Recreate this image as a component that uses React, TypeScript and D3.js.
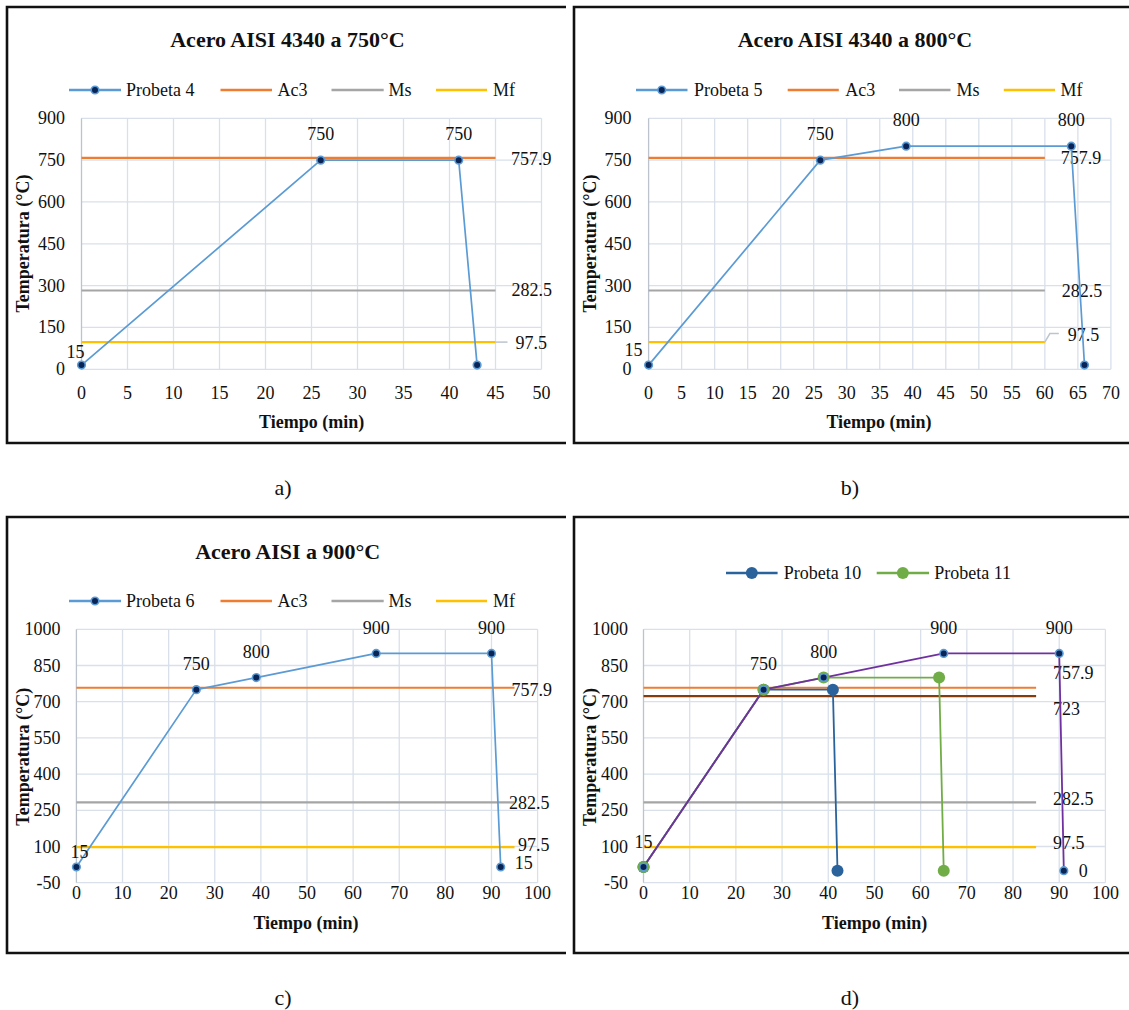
import React from "react";
import * as d3 from "d3";

const FONT = '"Liberation Serif", "Times New Roman", Times, serif';

// ---------- data ----------
const tiempoP4 = [0, 26, 41, 43];
const tempP4 = [15, 750, 750, 15];
const tiempoP5 = [0, 26, 39, 64, 66];
const tempP5 = [15, 750, 800, 800, 15];
const tiempoP6 = [0, 26, 39, 65, 90, 92];
const tempP6 = [15, 750, 800, 900, 900, 15];
const tiempoP10 = [0, 26, 41, 42];
const tempP10 = [15, 750, 750, 0];
const tiempoP11 = [0, 26, 39, 64, 65];
const tempP11 = [15, 750, 800, 800, 0];
const tiempoP12 = [0, 26, 39, 65, 90, 91];
const tempP12 = [15, 750, 800, 900, 900, 0];

const AC3 = 757.9;
const MS = 282.5;
const MF = 97.5;
const A1 = 723;

const refXA = [0, 45];
const refXB = [0, 60];
const refXC = [0, 95];
const refXD = [0, 85];

const xTicksA = [0, 5, 10, 15, 20, 25, 30, 35, 40, 45, 50];
const xTicksB = [0, 5, 10, 15, 20, 25, 30, 35, 40, 45, 50, 55, 60, 65, 70];
const xTicksCD = [0, 10, 20, 30, 40, 50, 60, 70, 80, 90, 100];
const yTicksAB = [0, 150, 300, 450, 600, 750, 900];
const yTicksCD = [-50, 100, 250, 400, 550, 700, 850, 1000];

const titles = ["Acero AISI 4340 a 750°C", "Acero AISI 4340 a 800°C", "Acero AISI a 900°C"];
const legendA = ["Probeta 4", "Ac3", "Ms", "Mf"];
const legendB = ["Probeta 5", "Ac3", "Ms", "Mf"];
const legendC = ["Probeta 6", "Ac3", "Ms", "Mf"];
const legendD = ["Probeta 10", "Probeta 11"];
const captions = ["a)", "b)", "c)", "d)"];

// ---------- styles ----------
const C = {
  blue: "#5B9BD5",
  navy: "#0A2456",
  orange: "#ED7D31",
  gray: "#A5A5A5",
  yellow: "#FFC000",
  brown: "#843C0C",
  purple: "#7030A0",
  green: "#70AD47",
  dblue: "#2A639C",
  grid: "#D9E0EA",
  axis: "#BCC3CD",
};

type Lbl = { i: number; dx: number; dy: number; anchor?: "start" | "middle" | "end" };
type SeriesCfg = {
  x: number[]; y: number[]; color: string; width: number;
  r: number; fill: string; stroke: string; sw: number; labels: Lbl[];
};
type RefCfg = {
  value: number; xr: number[]; color: string; dx: number; dy: number;
  leader?: [number, number][];
};
type LegItem = { name: string; color: string; x0: number; x1: number; tx: number; r: number; fill: string; stroke: string; sw: number };
type PanelCfg = {
  box: { x0: number; x1: number; y0: number; y1: number; rightBorder: boolean };
  plot: { x0: number; x1: number; y0: number; y1: number };
  xDomain: [number, number]; yDomain: [number, number];
  xTicks: number[]; yTicks: number[];
  xTickDy: number; yTickGap: number;
  title?: { text: string; x: number; y: number };
  legend: { y: number; items: LegItem[] };
  xTitle: { x: number; y: number };
  yTitle: { x: number; y: number };
  refs: RefCfg[];
  series: SeriesCfg[];
  caption: { text: string; x: number; y: number };
};

const smallMarker = { r: 3.8, fill: C.navy, stroke: C.blue, sw: 1.6 };

function legendItems(names: string[], pos: number[][], colors: string[], markers: any[]): LegItem[] {
  return names.map((n, k) => ({
    name: n, color: colors[k], x0: pos[k][0], x1: pos[k][1], tx: pos[k][2],
    ...(markers[k] || { r: 0, fill: "none", stroke: "none", sw: 0 }),
  }));
}

const posAC = [[69, 121, 126], [220.5, 272, 277.5], [331.5, 383.7, 388.4], [436, 487, 493]];
const posB = [[636, 687.5, 694], [787.7, 838.8, 845.3], [899, 950.5, 956.6], [1003.8, 1055, 1060.4]];
const posD = [[726, 777.6, 783.7], [876.7, 929, 934.3]];

const panels: PanelCfg[] = [
  {
    box: { x0: 7, x1: 566, y0: 7, y1: 443, rightBorder: false },
    plot: { x0: 81.5, x1: 541.5, y0: 118.3, y1: 369.3 },
    xDomain: [0, 50], yDomain: [0, 900],
    xTicks: xTicksA, yTicks: yTicksAB, xTickDy: 23.4, yTickGap: 16.5,
    title: { text: titles[0], x: 287.5, y: 39.5 },
    legend: { y: 90, items: legendItems(legendA, posAC, [C.blue, C.orange, C.gray, C.yellow], [smallMarker]) },
    xTitle: { x: 311.6, y: 421.7 },
    yTitle: { x: 23.4, y: 243.5 },
    refs: [
      { value: AC3, xr: refXA, color: C.orange, dx: 15.6, dy: 1 },
      { value: MS, xr: refXA, color: C.gray, dx: 16, dy: -0.5 },
      { value: MF, xr: refXA, color: C.yellow, dx: 20, dy: 1, leader: [[0, 0], [12, 0]] },
    ],
    series: [
      { x: tiempoP4, y: tempP4, color: C.blue, width: 1.7, ...smallMarker,
        labels: [{ i: 0, dx: -6, dy: -13.5 }, { i: 1, dx: 0, dy: -26 }, { i: 2, dx: 0, dy: -26 }] },
    ],
    caption: { text: captions[0], x: 283, y: 487 },
  },
  {
    box: { x0: 574, x1: 1131, y0: 7, y1: 443, rightBorder: false },
    plot: { x0: 648.6, x1: 1110.9, y0: 118.3, y1: 369.3 },
    xDomain: [0, 70], yDomain: [0, 900],
    xTicks: xTicksB, yTicks: yTicksAB, xTickDy: 23.4, yTickGap: 17,
    title: { text: titles[1], x: 855, y: 39.5 },
    legend: { y: 90, items: legendItems(legendB, posB, [C.blue, C.orange, C.gray, C.yellow], [smallMarker]) },
    xTitle: { x: 879, y: 421.7 },
    yTitle: { x: 590.2, y: 243.5 },
    refs: [
      { value: AC3, xr: refXB, color: C.orange, dx: 16, dy: 0 },
      { value: MS, xr: refXB, color: C.gray, dx: 17, dy: 0.5 },
      { value: MF, xr: refXB, color: C.yellow, dx: 23, dy: -7, leader: [[0, 0], [5, -8.5], [14, -8.5]] },
    ],
    series: [
      { x: tiempoP5, y: tempP5, color: C.blue, width: 1.7, ...smallMarker,
        labels: [{ i: 0, dx: -15, dy: -15 }, { i: 1, dx: 0, dy: -26 }, { i: 2, dx: 0, dy: -26 }, { i: 3, dx: 0, dy: -26 }] },
    ],
    caption: { text: captions[1], x: 850, y: 487 },
  },
  {
    box: { x0: 7, x1: 566, y0: 517, y1: 953, rightBorder: false },
    plot: { x0: 76.4, x1: 537.6, y0: 629.3, y1: 882.7 },
    xDomain: [0, 100], yDomain: [-50, 1000],
    xTicks: xTicksCD, yTicks: yTicksCD, xTickDy: 10.6, yTickGap: 16,
    title: { text: titles[2], x: 287.7, y: 551.7 },
    legend: { y: 601, items: legendItems(legendC, posAC, [C.blue, C.orange, C.gray, C.yellow], [smallMarker]) },
    xTitle: { x: 306, y: 922.7 },
    yTitle: { x: 23.4, y: 756.7 },
    refs: [
      { value: AC3, xr: refXC, color: C.orange, dx: -3, dy: 2.3 },
      { value: MS, xr: refXC, color: C.gray, dx: -5.5, dy: 1 },
      { value: MF, xr: refXC, color: C.yellow, dx: 3.5, dy: -2 },
    ],
    series: [
      { x: tiempoP6, y: tempP6, color: C.blue, width: 1.7, ...smallMarker,
        labels: [
          { i: 0, dx: 3, dy: -15 }, { i: 1, dx: 0, dy: -26 }, { i: 2, dx: 0, dy: -26 },
          { i: 3, dx: 0, dy: -25 }, { i: 4, dx: 0, dy: -25 }, { i: 5, dx: 14, dy: -4, anchor: "start" },
        ] },
    ],
    caption: { text: captions[2], x: 283, y: 997 },
  },
  {
    box: { x0: 574, x1: 1131, y0: 517, y1: 953, rightBorder: false },
    plot: { x0: 643.5, x1: 1105.4, y0: 629.3, y1: 882.7 },
    xDomain: [0, 100], yDomain: [-50, 1000],
    xTicks: xTicksCD, yTicks: yTicksCD, xTickDy: 10.6, yTickGap: 15.5,
    legend: {
      y: 573,
      items: legendItems(legendD, posD, [C.dblue, C.green], [
        { r: 6, fill: C.dblue, stroke: C.dblue, sw: 0 },
        { r: 6, fill: C.green, stroke: C.green, sw: 0 },
      ]),
    },
    xTitle: { x: 874.7, y: 922.7 },
    yTitle: { x: 590.2, y: 757 },
    refs: [
      { value: AC3, xr: refXD, color: C.orange, dx: 17, dy: -14.4 },
      { value: A1, xr: refXD, color: C.brown, dx: 17, dy: 13 },
      { value: MS, xr: refXD, color: C.gray, dx: 17, dy: -3 },
      { value: MF, xr: refXD, color: C.yellow, dx: 17, dy: -4 },
    ],
    series: [
      { x: tiempoP10, y: tempP10, color: C.dblue, width: 1.8, r: 6, fill: C.dblue, stroke: C.dblue, sw: 0, labels: [] },
      { x: tiempoP11, y: tempP11, color: C.green, width: 1.8, r: 6, fill: C.green, stroke: C.green, sw: 0, labels: [] },
      { x: tiempoP12, y: tempP12, color: C.purple, width: 1.8, ...smallMarker,
        labels: [
          { i: 0, dx: 0, dy: -25 }, { i: 1, dx: 0, dy: -26 }, { i: 2, dx: 0, dy: -26 },
          { i: 3, dx: 0, dy: -25 }, { i: 4, dx: 0, dy: -25 }, { i: 5, dx: 15, dy: 0, anchor: "start" },
        ] },
    ],
    caption: { text: captions[3], x: 850, y: 997 },
  },
];

function fmt(v: number) {
  return String(v);
}

function Panel({ cfg }: { cfg: PanelCfg }) {
  const { plot, box } = cfg;
  const xs = d3.scaleLinear().domain(cfg.xDomain).range([plot.x0, plot.x1]);
  const ys = d3.scaleLinear().domain(cfg.yDomain).range([plot.y1, plot.y0]);
  const line = d3.line<number>();

  const borderPath = `M${box.x1},${box.y0} H${box.x0} V${box.y1} H${box.x1}` + (cfg.box.rightBorder ? ` V${box.y0}` : "");

  return (
    <g>
      <path d={borderPath} fill="none" stroke="#111" strokeWidth={2.6} />
      {/* grid */}
      {cfg.yTicks.map((t) => (
        <line key={"gy" + t} x1={plot.x0} x2={plot.x1} y1={ys(t)} y2={ys(t)} stroke={C.grid} strokeWidth={1.3} />
      ))}
      {cfg.xTicks.map((t) => (
        <line key={"gx" + t} x1={xs(t)} x2={xs(t)} y1={plot.y0} y2={plot.y1}
          stroke={t === 0 ? C.axis : C.grid} strokeWidth={1.3} />
      ))}
      {/* tick labels */}
      {cfg.yTicks.map((t) => (
        <text key={"ty" + t} x={plot.x0 - cfg.yTickGap} y={ys(t)} textAnchor="end" dominantBaseline="central"
          fontSize={18} fill="#111">{fmt(t)}</text>
      ))}
      {cfg.xTicks.map((t) => (
        <text key={"tx" + t} x={xs(t)} y={plot.y1 + cfg.xTickDy} textAnchor="middle" dominantBaseline="central"
          fontSize={18} fill="#111">{fmt(t)}</text>
      ))}
      {/* axis titles */}
      <text x={cfg.xTitle.x} y={cfg.xTitle.y} textAnchor="middle" dominantBaseline="central" fontSize={18}
        fontWeight="bold" fill="#111">Tiempo (min)</text>
      <text transform={`translate(${cfg.yTitle.x},${cfg.yTitle.y}) rotate(-90)`} textAnchor="middle"
        dominantBaseline="central" fontSize={18} fontWeight="bold" fill="#111">Temperatura (°C)</text>
      {cfg.title && (
        <text x={cfg.title.x} y={cfg.title.y} textAnchor="middle" dominantBaseline="central" fontSize={22}
          fontWeight="bold" fill="#111">{cfg.title.text}</text>
      )}
      {/* legend */}
      {cfg.legend.items.map((it) => (
        <g key={"lg" + it.name}>
          <line x1={it.x0} x2={it.x1} y1={cfg.legend.y} y2={cfg.legend.y} stroke={it.color} strokeWidth={2.3} />
          {it.r > 0 && (
            <circle cx={(it.x0 + it.x1) / 2} cy={cfg.legend.y} r={it.r} fill={it.fill} stroke={it.stroke} strokeWidth={it.sw} />
          )}
          <text x={it.tx} y={cfg.legend.y} dominantBaseline="central" fontSize={18} fill="#111">{it.name}</text>
        </g>
      ))}
      {/* reference lines */}
      {cfg.refs.map((r) => {
        const xe = xs(r.xr[1]);
        const y = ys(r.value);
        return (
          <g key={"ref" + r.value}>
            <line x1={xs(r.xr[0])} x2={xe} y1={y} y2={y} stroke={r.color} strokeWidth={2.2} />
            {r.leader && (
              <path d={line.x((p: any) => xe + p[0]).y((p: any) => y + p[1])(r.leader as any) || ""}
                fill="none" stroke="#BCC4CE" strokeWidth={1.5} />
            )}
            <text x={xe + r.dx} y={y + r.dy} dominantBaseline="central" fontSize={18} fill="#111">{fmt(r.value)}</text>
          </g>
        );
      })}
      {/* series */}
      {cfg.series.map((s, k) => {
        const pts = s.x.map((xv, i) => [xs(xv), ys(s.y[i])] as [number, number]);
        const d = d3.line()(pts) || "";
        return (
          <g key={"s" + k}>
            <path d={d} fill="none" stroke={s.color} strokeWidth={s.width} strokeLinejoin="round" />
          </g>
        );
      })}
      {cfg.series.map((s, k) => (
        <g key={"m" + k}>
          {s.x.map((xv, i) => (
            <circle key={i} cx={xs(xv)} cy={ys(s.y[i])} r={s.r} fill={s.fill} stroke={s.stroke} strokeWidth={s.sw} />
          ))}
        </g>
      ))}
      {cfg.series.map((s, k) => (
        <g key={"l" + k}>
          {s.labels.map((l) => (
            <text key={l.i} x={xs(s.x[l.i]) + l.dx} y={ys(s.y[l.i]) + l.dy} textAnchor={l.anchor || "middle"}
              dominantBaseline="central" fontSize={18} fill="#111">{fmt(s.y[l.i])}</text>
          ))}
        </g>
      ))}
      <text x={cfg.caption.x} y={cfg.caption.y} textAnchor="middle" dominantBaseline="central" fontSize={22}
        fill="#111">{cfg.caption.text}</text>
    </g>
  );
}

export default function App() {
  return (
    <svg width={1129} height={1010} viewBox="0 0 1129 1010"
      style={{ position: "absolute", left: 0, top: 0, background: "#fff", fontFamily: FONT }}>
      <rect x={0} y={0} width={1129} height={1010} fill="#fff" />
      {panels.map((p, i) => (
        <Panel key={i} cfg={p} />
      ))}
    </svg>
  );
}
